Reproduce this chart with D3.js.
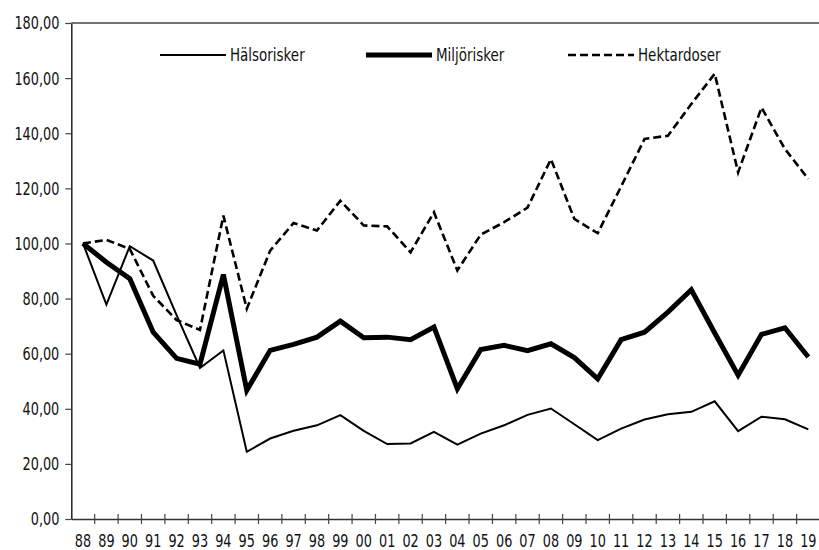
<!DOCTYPE html>
<html>
<head>
<meta charset="utf-8">
<script src="https://cdn.jsdelivr.net/npm/d3@7"></script>
<style>
  body { margin: 0; background: #fff; }
  svg text { font-family: 'Liberation Sans Narrow', 'DejaVu Sans Condensed', 'Arial Narrow', sans-serif; fill: #111; }
</style>
</head>
<body>
<svg id="chart"></svg>
<script>
// data
const years = ["88","89","90","91","92","93","94","95","96","97","98","99",
  "00","01","02","03","04","05","06","07","08","09","10","11","12","13","14","15","16","17","18","19"];
const halsorisker = [100, 77.8, 99.0, 93.8, 74.0, 54.8, 61.2, 24.4, 29.2, 32.0, 34.0, 37.7,
  32.0, 27.2, 27.4, 31.6, 27.0, 31.0, 34.0, 37.8, 40.1, 34.4, 28.6, 32.8, 36.1, 38.0, 38.9, 42.7, 31.9, 37.1, 36.2, 32.5];
const miljorisker = [100, 93.2, 87.2, 67.8, 58.3, 56.2, 88.7, 46.7, 61.2, 63.4, 66.0, 71.8,
  65.8, 66.0, 65.1, 69.7, 47.3, 61.5, 63.0, 61.1, 63.6, 58.6, 50.9, 65.1, 67.8, 75.1, 83.2, 67.5, 52.2, 67.0, 69.4, 58.8];
const hektardoser = [100, 101.3, 98.0, 81.0, 72.2, 68.6, 110.1, 76.3, 97.4, 107.4, 104.7, 115.5,
  106.5, 106.2, 96.8, 111.3, 90.2, 103.2, 107.7, 113.0, 130.6, 108.9, 103.7, 120.7, 137.9, 139.1, 150.6, 161.6, 125.8, 149.3, 134.3, 123.4];
const yTicks = [0, 20, 40, 60, 80, 100, 120, 140, 160, 180];

const series = [
  { name: "Hälsorisker", values: halsorisker, width: 2, dash: null },
  { name: "Miljörisker", values: miljorisker, width: 5, dash: null },
  { name: "Hektardoser", values: hektardoser, width: 2.6, dash: "8,4" }
];

const W = 819, H = 550;
const plotLeft = 71.3, plotRight = 820, plotTop = 23, plotBottom = 519;
const squeeze = 0.84; // the reference font is a narrow one

const svg = d3.select("#chart").attr("width", W).attr("height", H);

const x = d3.scaleBand().domain(years).range([plotLeft, plotRight]);
const y = d3.scaleLinear().domain([0, 180]).range([plotBottom, plotTop]);

// top border of plot area
svg.append("line")
  .attr("x1", plotLeft).attr("x2", plotRight)
  .attr("y1", plotTop).attr("y2", plotTop)
  .attr("stroke", "#444").attr("stroke-width", 1.5);

// y axis
const yAxis = svg.append("g")
  .attr("transform", `translate(${plotLeft},0)`)
  .call(d3.axisLeft(y).tickValues(yTicks).tickSize(6).tickSizeOuter(0)
    .tickFormat(d => d.toFixed(2).replace(".", ",")));
yAxis.select(".domain").attr("stroke", "#222").attr("stroke-width", 1.5);
yAxis.selectAll(".tick line").attr("stroke", "#444").attr("stroke-width", 1.2);
yAxis.selectAll("text")
  .attr("font-size", 17)
  .attr("x", 0).attr("dy", "0.35em")
  .attr("transform", `translate(-12,0) scale(${squeeze},1)`);

// x axis: labels centred, ticks between categories
const xAxis = svg.append("g")
  .attr("transform", `translate(0,${plotBottom})`)
  .call(d3.axisBottom(x).tickSize(0).tickSizeOuter(0));
xAxis.select(".domain").attr("stroke", "#333").attr("stroke-width", 1.5);
xAxis.selectAll("text")
  .attr("font-size", 17)
  .attr("y", 16).attr("dy", "0.71em")
  .attr("transform", `scale(${squeeze},1)`);

xAxis.selectAll(".bound")
  .data(years.slice(1))
  .join("line")
  .attr("class", "bound")
  .attr("x1", d => x(d)).attr("x2", d => x(d))
  .attr("y1", -5).attr("y2", 5)
  .attr("stroke", "#444").attr("stroke-width", 1.2);

// lines
const line = d3.line()
  .x((d, i) => x(years[i]) + x.bandwidth() / 2)
  .y(d => y(d));

series.forEach(s => {
  svg.append("path")
    .datum(s.values)
    .attr("d", line)
    .attr("fill", "none")
    .attr("stroke", "#000")
    .attr("stroke-width", s.width)
    .attr("stroke-linejoin", "miter")
    .attr("stroke-dasharray", s.dash);
});

// legend
const legendX = [160, 366, 568];
const legend = svg.append("g");
series.forEach((s, i) => {
  const g = legend.append("g").attr("transform", `translate(${legendX[i]},55)`);
  g.append("line")
    .attr("x1", 0).attr("x2", 66)
    .attr("stroke", "#000")
    .attr("stroke-width", s.width)
    .attr("stroke-dasharray", s.dash);
  g.append("text")
    .attr("dy", "0.35em")
    .attr("font-size", 17)
    .attr("transform", `translate(70,0) scale(${squeeze + 0.04},1)`)
    .text(s.name);
});
</script>
</body>
</html>
